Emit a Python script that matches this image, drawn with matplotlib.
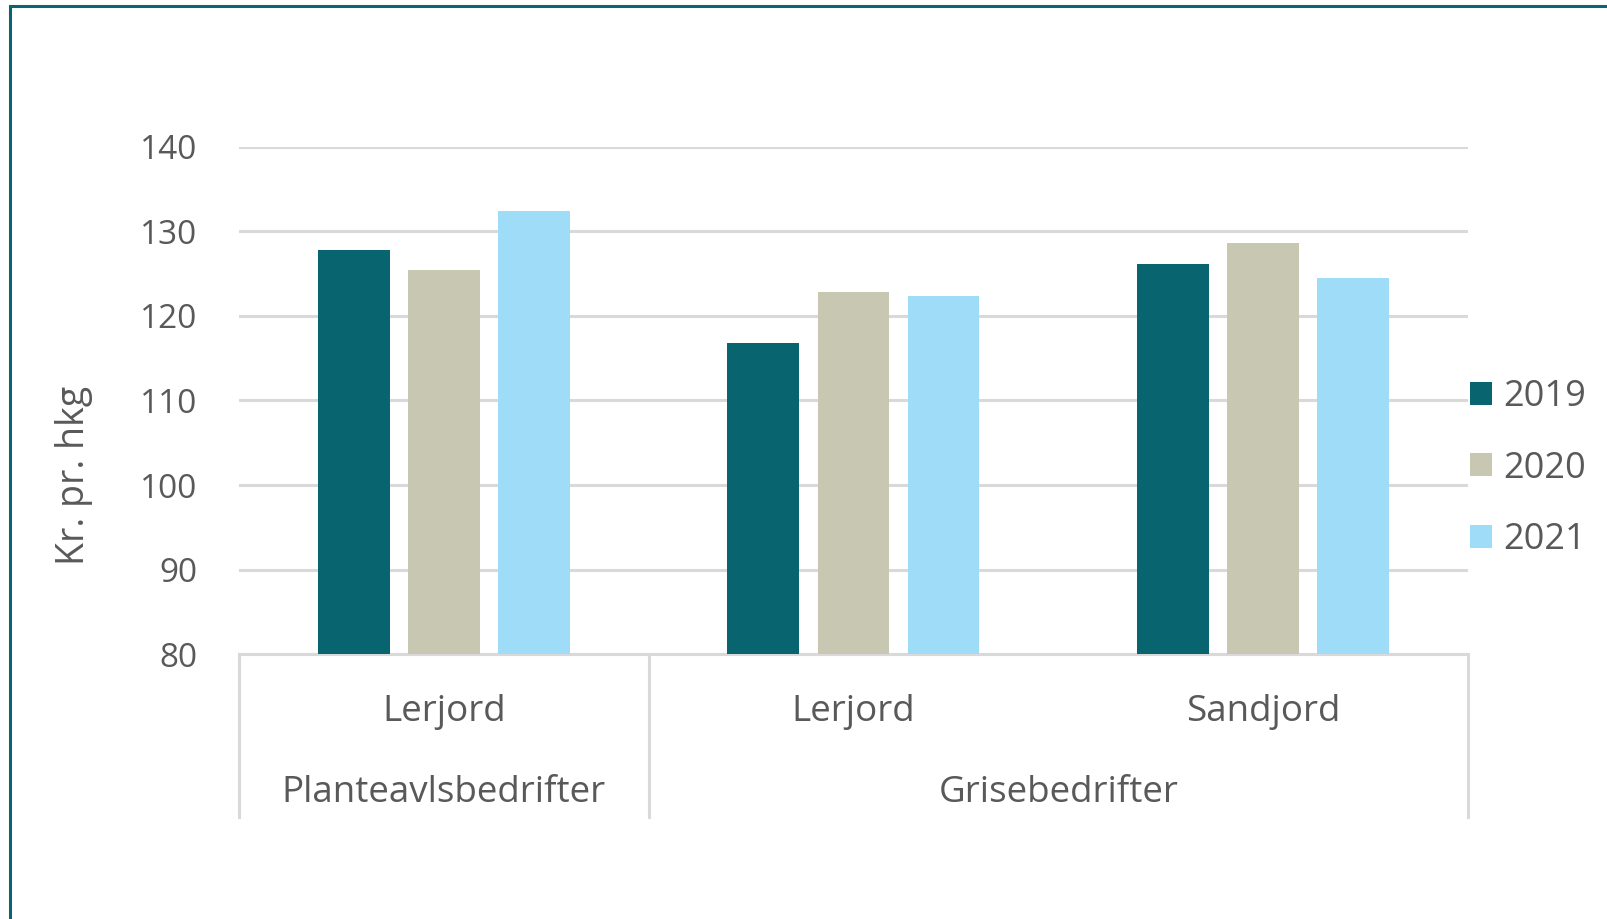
import numpy as np
import matplotlib
matplotlib.use('Agg')
import matplotlib.pyplot as plt
from matplotlib.patches import Rectangle
import matplotlib.transforms as mtrans

plt.rcParams['font.family'] = ['Open Sans', 'DejaVu Sans']

jord = ['Lerjord', 'Lerjord', 'Sandjord']
bedrift = ['Planteavlsbedrifter', 'Grisebedrifter']
bedrift_span = [(0, 0), (1, 2)]
aar = ['2019', '2020', '2021']
v2019 = [127.8, 116.8, 126.1]
v2020 = [125.4, 122.8, 128.6]
v2021 = [132.4, 122.4, 124.5]
farver = ['#08646f', '#c7c7b2', '#9edcf7']
tekst = '#595959'
gitter = '#d9d9d9'

fig = plt.figure(figsize=(16.08, 9.19), dpi=100)
ax = fig.add_axes([0.1486, 0.288, 0.7643, 0.5525])

x = np.arange(len(jord))
bredde = 0.175
step = 0.22
for i, (serie, navn) in enumerate(zip([v2019, v2020, v2021], aar)):
    ax.bar(x + (i - 1) * step, serie, width=bredde, color=farver[i],
           label=navn, zorder=3)

ax.set_ylim(80, 140)
ax.set_xlim(-0.5, 2.5)
ax.set_yticks(range(80, 141, 10))
ax.yaxis.grid(True, color=gitter, lw=2.2, zorder=0)
ax.set_axisbelow(True)
for s in ['top', 'right', 'left']:
    ax.spines[s].set_visible(False)
ax.spines['bottom'].set_color(gitter)
ax.spines['bottom'].set_linewidth(2.2)
ax.tick_params(axis='y', length=0, pad=30, labelsize=24, labelcolor=tekst)
ax.set_xticks([])

# kategori-bokse under aksen
tr = mtrans.blended_transform_factory(ax.transData, ax.transAxes)
for xv in [-0.5, 0.5, 2.5]:
    ax.plot([xv, xv], [0, -0.321], transform=tr, color=gitter, lw=2.2,
            clip_on=False)
for xi, navn in zip(x, jord):
    ax.text(xi, -0.1135, navn, transform=tr, ha='center', va='center',
            fontsize=26.5, color=tekst)
for (a, b), navn in zip(bedrift_span, bedrift):
    ax.text((a + b) / 2, -0.273, navn, transform=tr, ha='center',
            va='center', fontsize=26.5, color=tekst)

fig.text(74 / 1608, 0.483, 'Kr. pr. hkg', rotation=90, ha='center',
         va='center', fontsize=27, color=tekst)

fig.legend(loc='center left', bbox_to_anchor=(1470 / 1608, 0.4902),
           frameon=False, fontsize=26, labelcolor=tekst, borderpad=0,
           handlelength=0.61, handleheight=0.61, handletextpad=0.3,
           labelspacing=0.98, borderaxespad=0)

fig.patches.append(Rectangle((10 / 1608, -0.5), 2, 0.5 + 1 - 6 / 919,
                             transform=fig.transFigure, fill=False,
                             edgecolor='#0b6470', lw=2.2))

fig.savefig('out.png', dpi=100)
